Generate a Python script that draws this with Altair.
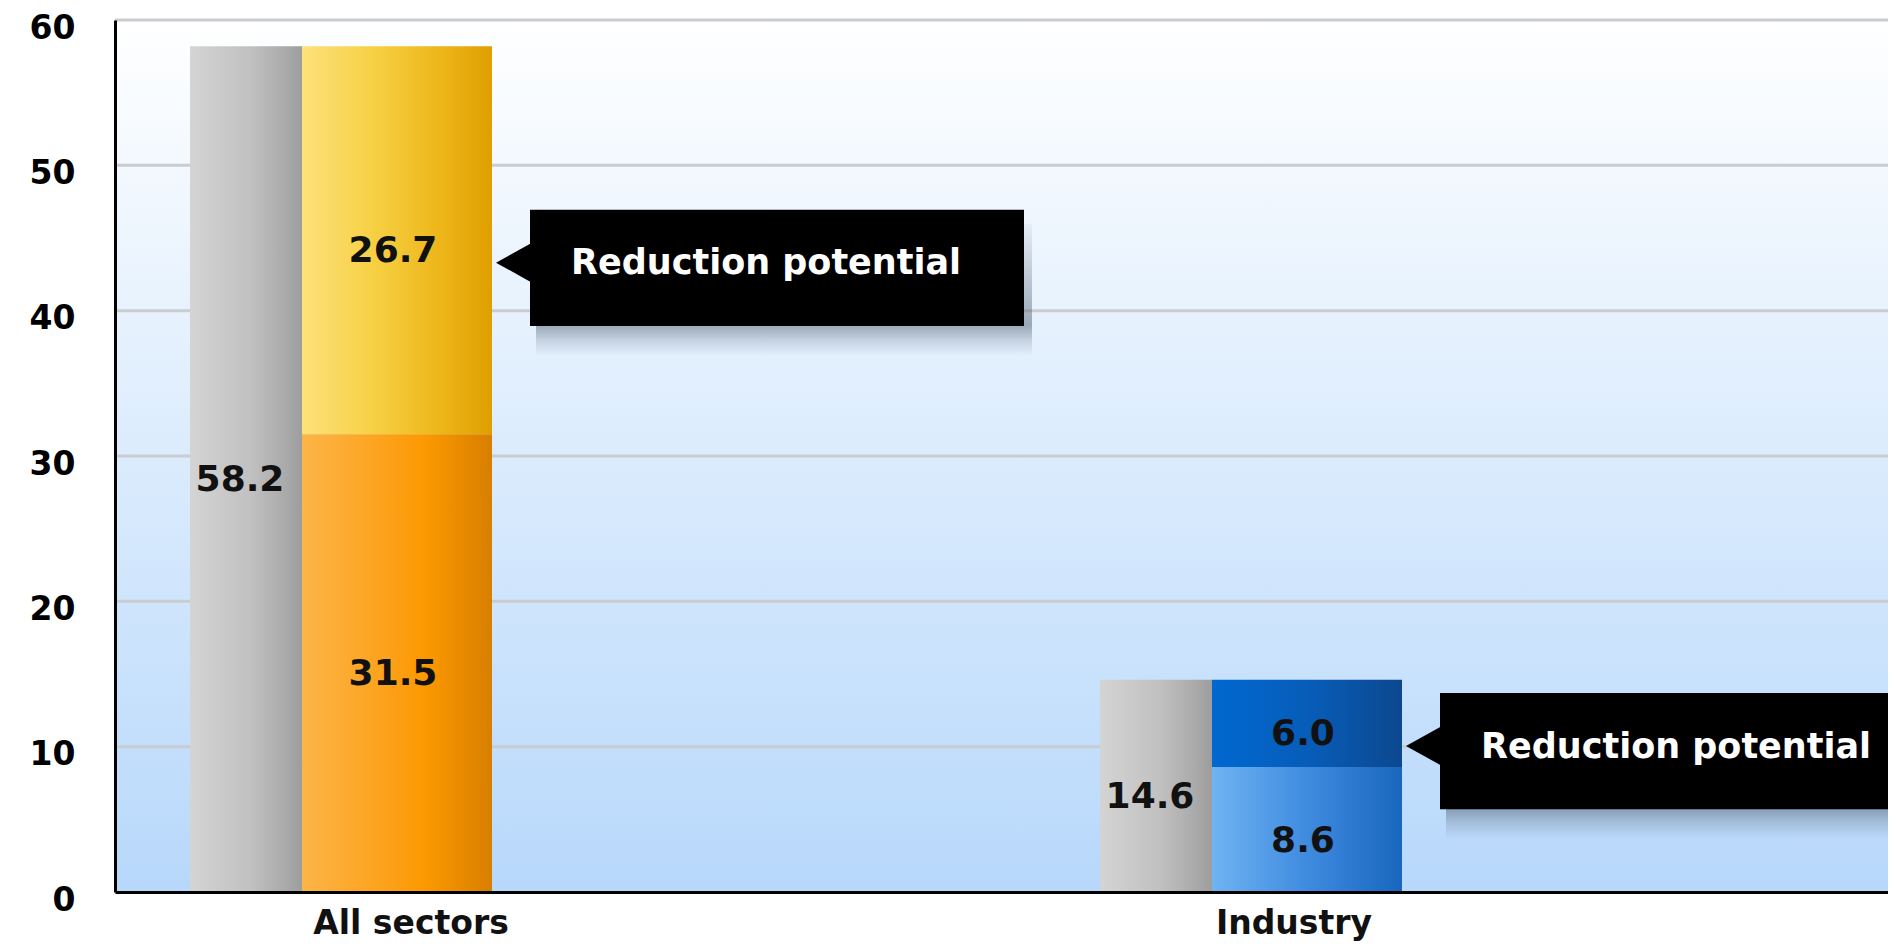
import altair as alt
import pandas as pd

# ---------------- data ----------------
CATEGORIES = ["All sectors", "Industry"]
TOTAL = [58.2, 14.6]
BASE = [31.5, 8.6]
REDUCTION = [26.7, 6.0]
Y_TICKS = [0, 10, 20, 30, 40, 50, 60]
CALLOUT_TEXT = "Reduction potential"

df = pd.DataFrame({
    "category": CATEGORIES,
    "idx": list(range(len(CATEGORIES))),
    "total": TOTAL,
    "base": BASE,
    "reduction": REDUCTION,
    "note": [CALLOUT_TEXT] * len(CATEGORIES),
})
grid_df = pd.DataFrame({"v": Y_TICKS[1:]})
one_df = pd.DataFrame({"a": [0]})

# ---------------- layout ----------------
W, H = 1773, 872
STEP = 910.0        # px per category group
LEFT_GAP = 75.0     # px from axis to first bar


def u(px):
    return px / STEP


XMIN = -u(LEFT_GAP)
XMAX = XMIN + W / STEP
FONT = "DejaVu Sans"


def lin(stops, vertical=False):
    return {
        "gradient": "linear",
        "x1": 0, "y1": 0,
        "x2": 0 if vertical else 1,
        "y2": 1 if vertical else 0,
        "stops": [{"offset": o, "color": c} for o, c in stops],
    }


BG_GRAD = lin([(0, "#ffffff"), (1, "#b7d8fb")], vertical=True)
GRAY_GRAD = lin([(0, "#d4d4d4"), (0.55, "#c0c0c0"), (0.85, "#aaaaaa"), (1, "#9d9d9d")])
YELLOW_GRAD = lin([(0, "#fde17c"), (0.4, "#f6cf40"), (0.75, "#ecb417"), (1, "#df9f00")])
ORANGE_GRAD = lin([(0, "#fcb548"), (0.45, "#fda11a"), (0.65, "#fc9900"), (1, "#d77f00")])
DBLUE_GRAD = lin([(0, "#0068d0"), (0.5, "#075db9"), (1, "#0c488f")])
LBLUE_GRAD = lin([(0, "#6fb3f1"), (0.5, "#3f8be0"), (1, "#1966be")])
SHADOW_GRAD = lin([(0, "rgba(80,95,115,0.05)"), (0.77, "rgba(80,95,115,0.5)"),
                   (0.88, "rgba(80,95,115,0.22)"), (1, "rgba(80,95,115,0)")], vertical=True)

x_scale = alt.Scale(domain=[XMIN, XMAX], nice=False, zero=False)
y_scale = alt.Scale(domain=[0, 60], nice=False, zero=True)
x_axis = alt.Axis(title=None, labels=False, ticks=False, grid=False,
                  domainColor="#000000", domainWidth=3, zindex=1)
y_axis = alt.Axis(title=None, values=Y_TICKS, ticks=False, grid=False,
                  domainColor="#000000", domainWidth=3, labelFont=FONT,
                  labelFontSize=33, labelFontWeight="bold", labelColor="#000000",
                  labelPadding=40, labelOffset=8, zindex=1)


def X(f):
    return alt.X(f, scale=x_scale, axis=x_axis)


def Y(f):
    return alt.Y(f, scale=y_scale, axis=y_axis)


base = alt.Chart(df).transform_calculate(
    gx0="datum.idx",
    gx1=f"datum.idx + {u(112)}",
    cx1=f"datum.idx + {u(302)}",
    gxc=f"datum.idx + {u(50)}",
    cxc=f"datum.idx + {u(203)}",
    lx=f"datum.idx * {u(883)} + {u(221)}",
    gmid="datum.total / 2",
    topmid="datum.base + datum.reduction / 2",
    botmid="datum.base / 2",
    bc="datum.base + datum.reduction / 2 - 1.9",
    by0="datum.bc - 4.0",
    by1="datum.bc + 4.0",
    bx0=f"datum.idx + {u(340)}",
    bx1=f"datum.idx + {u(834)}",
    ax=f"datum.idx + {u(324)}",
    ay="datum.bc + 0.35",
    tx=f"datum.idx + {u(381)}",
    ty="datum.bc + 0.3",
)

bg = alt.Chart(one_df).mark_rect(fill=BG_GRAD).encode(
    x=alt.value(0), x2=alt.value(W), y=alt.value(0), y2=alt.value(H))

grid = alt.Chart(grid_df).mark_rule(color="#c9cdd2", strokeWidth=3).encode(
    x=alt.value(0), x2=alt.value(W), y=Y("v:Q"))

gray = base.mark_rect(fill=GRAY_GRAD).encode(
    x=X("gx0:Q"), x2="gx1:Q", y=Y("total:Q"), y2=alt.datum(0))

top0 = base.transform_filter("datum.idx == 0").mark_rect(fill=YELLOW_GRAD).encode(
    x=X("gx1:Q"), x2="cx1:Q", y=Y("total:Q"), y2="base:Q")
bot0 = base.transform_filter("datum.idx == 0").mark_rect(fill=ORANGE_GRAD).encode(
    x=X("gx1:Q"), x2="cx1:Q", y=Y("base:Q"), y2=alt.datum(0))
top1 = base.transform_filter("datum.idx == 1").mark_rect(fill=DBLUE_GRAD).encode(
    x=X("gx1:Q"), x2="cx1:Q", y=Y("total:Q"), y2="base:Q")
bot1 = base.transform_filter("datum.idx == 1").mark_rect(fill=LBLUE_GRAD).encode(
    x=X("gx1:Q"), x2="cx1:Q", y=Y("base:Q"), y2=alt.datum(0))

txt_style = dict(font=FONT, fontSize=36, fontWeight="bold", color="#111111",
                 baseline="middle", dy=11)
lab_total = base.mark_text(**txt_style).encode(
    x=X("gxc:Q"), y=Y("gmid:Q"), text=alt.Text("total:Q", format=".1f"))
lab_red = base.mark_text(**txt_style).encode(
    x=X("cxc:Q"), y=Y("topmid:Q"), text=alt.Text("reduction:Q", format=".1f"))
lab_base = base.mark_text(**txt_style).encode(
    x=X("cxc:Q"), y=Y("botmid:Q"), text=alt.Text("base:Q", format=".1f"))

xlab = base.mark_text(font=FONT, fontSize=33, fontWeight="bold", color="#111111",
                      baseline="alphabetic").encode(
    x=X("lx:Q"), y=alt.value(H + 42), text="category:N")

shadow = base.mark_rect(fill=SHADOW_GRAD, xOffset=6, x2Offset=8, yOffset=14,
                        y2Offset=30, clip=True).encode(
    x=X("bx0:Q"), x2="bx1:Q", y=Y("by1:Q"), y2="by0:Q")
box = base.mark_rect(fill="#000000", clip=True).encode(
    x=X("bx0:Q"), x2="bx1:Q", y=Y("by1:Q"), y2="by0:Q")
arrow = base.mark_point(shape="M0.9,-1L-0.9,0L0.9,1Z", size=1600, filled=True,
                        color="#000000", opacity=1, strokeWidth=0).encode(
    x=X("ax:Q"), y=Y("ay:Q"))
callout = base.mark_text(font=FONT, fontSize=35, fontWeight="bold", color="#ffffff",
                         align="left", baseline="middle").encode(
    x=X("tx:Q"), y=Y("ty:Q"), text="note:N")

chart = alt.layer(
    bg, grid, gray, top0, bot0, top1, bot1,
    lab_total, lab_red, lab_base, xlab,
    shadow, box, arrow, callout,
).properties(
    width=W, height=H,
    padding={"left": 107, "top": 12, "right": 0, "bottom": 51},
    autosize=alt.AutoSizeParams(type="none"),
).configure_view(stroke="transparent")

chart.save("out.html", embed_options={"renderer": "svg", "actions": False})
